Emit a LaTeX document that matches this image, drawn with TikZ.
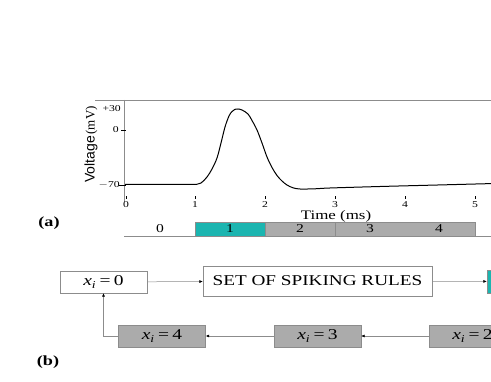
\documentclass[tikz,border=0pt]{standalone}
\usepackage{fontspec}
\setmainfont{Liberation Serif}
\newfontfamily\voltfont{Liberation Sans}
\usetikzlibrary{arrows.meta}
\definecolor{tealbox}{HTML}{1BB5B0}
\definecolor{graybox}{HTML}{ABABAB}
\definecolor{lineg}{HTML}{8C8C8C}
\newcommand\hstr[1]{\scalebox{1.3}[1]{#1}}
\tikzset{
  wbox/.style={draw=lineg, fill=white, minimum height=22pt, inner sep=0pt},
  gbox/.style={draw=lineg, fill=graybox, minimum height=22pt, minimum width=87pt, inner sep=0pt},
  conn/.style={draw=lineg, line width=0.5pt, -{Latex[length=3.5pt,width=3pt,color=black]}},
  ticklab/.style={font=\fontsize{9}{9}\selectfont, inner sep=0pt},
  barlab/.style={font=\fontsize{12}{12}\selectfont, inner sep=0pt},
  boxtxt/.style={font=\fontsize{15}{15}\selectfont},
  panel/.style={font=\bfseries\fontsize{14}{14}\selectfont, inner sep=0pt},
}
\begin{document}
\begin{tikzpicture}[x=1pt,y=-1pt]
\useasboundingbox (0,0) rectangle (491,382);
\clip (0,0) rectangle (491,382);
\fill[white] (0,0) rectangle (491,382);
% top frame line
\draw[lineg, line width=0.6pt] (95,100) -- (491,100);
% y axis
\draw[lineg, line width=0.6pt] (124,100) -- (124,202);
\draw[black, line width=0.4pt] (121,130) -- (126,130);
\draw[black, line width=0.4pt] (119,185) -- (126,185);
\node[ticklab, anchor=east] (l30) at (121,109) {\hstr{+30}};
\node[ticklab, anchor=east] (l0) at (119,130) {\hstr{0}};
\node[ticklab, anchor=east] (l70) at (120,185) {\hstr{$-$70}};
\node[rotate=90, inner sep=0pt] (vlab) at (91,144.5) {{\voltfont\fontsize{14}{14}\selectfont Voltage}\,{\fontsize{13}{13}\selectfont (mV)}};
% x ticks
\foreach \t/\xx in {0/126,1/195,2/265,3/335,4/405,5/475}{
  \draw[black, line width=0.3pt] (\xx,196.5) -- (\xx,199.5);
  \node[ticklab] (t\t) at (\xx,205) {\hstr{\t}};
}
\node[font=\fontsize{13}{13}\selectfont, inner sep=0pt] (tlab) at (336,216.5) {\hstr{Time (ms)}};
% curve
\draw[black, line width=1pt] (125,184.5) -- (195,184.5)
  plot[smooth, tension=0.55] coordinates {(195,184.5) (201,183) (207,177) (212,169) (217,158) (221,143) (225,127) (229,116) (232,111.5) (235,109.3) (238,109) (242,110) (248,114) (252,120.5) (257,130) (262,143) (267,157) (272,167.5) (277,175.5) (282,181) (287,185) (293,187.8) (300,189) (315,188.8) (330,188) (380,186.5) (430,185.2) (491,183.6)};
% bar
\draw[lineg, line width=0.6pt] (124,236) -- (491,236);
\draw[draw=lineg, fill=tealbox] (195,222) rectangle (265,236);
\draw[draw=lineg, fill=graybox] (265,222) rectangle (335,236);
\draw[draw=lineg, fill=graybox] (335,222) rectangle (475,236);
\node[barlab] (b0) at (160,229) {\hstr{0}};
\node[barlab] (b1) at (230,229) {\hstr{1}};
\node[barlab] (b2) at (300,229) {\hstr{2}};
\node[barlab] (b3) at (370,229) {\hstr{3}};
\node[barlab] (b4) at (439,229) {\hstr{4}};
\node[panel] (pa) at (49,223) {\hstr{(a)}};
% part (b)
\node[wbox, boxtxt, minimum width=87pt] (x0) at (103.5,282) {\hstr{\textit{x}\textsubscript{\textit{i}}\,=\,0}};
\node[wbox, minimum width=229pt, minimum height=30pt, font=\fontsize{15}{15}\selectfont] (set) at (317.5,281) {\scalebox{1.28}[1]{SET OF SPIKING RULES}};
\node[draw=lineg, fill=tealbox, minimum width=73pt, minimum height=23pt, inner sep=0pt] (x1) at (523.5,281.5) {};
\node[gbox, boxtxt] (x4) at (162,336) {\hstr{\textit{x}\textsubscript{\textit{i}}\,=\,4}};
\node[gbox, boxtxt] (x3) at (317.5,336) {\hstr{\textit{x}\textsubscript{\textit{i}}\,=\,3}};
\node[gbox, boxtxt] (x2) at (472.5,336) {\hstr{\textit{x}\textsubscript{\textit{i}}\,=\,2}};
\draw[conn] (x0) -- (set);
\draw[conn] (set) -- (x1);
\draw[conn] (x2) -- (x3);
\draw[conn] (x3) -- (x4);
\draw[conn] (x4.west) -| (x0.south);
\node[panel] (pb) at (48,362) {\hstr{(b)}};
\end{tikzpicture}
\end{document}
